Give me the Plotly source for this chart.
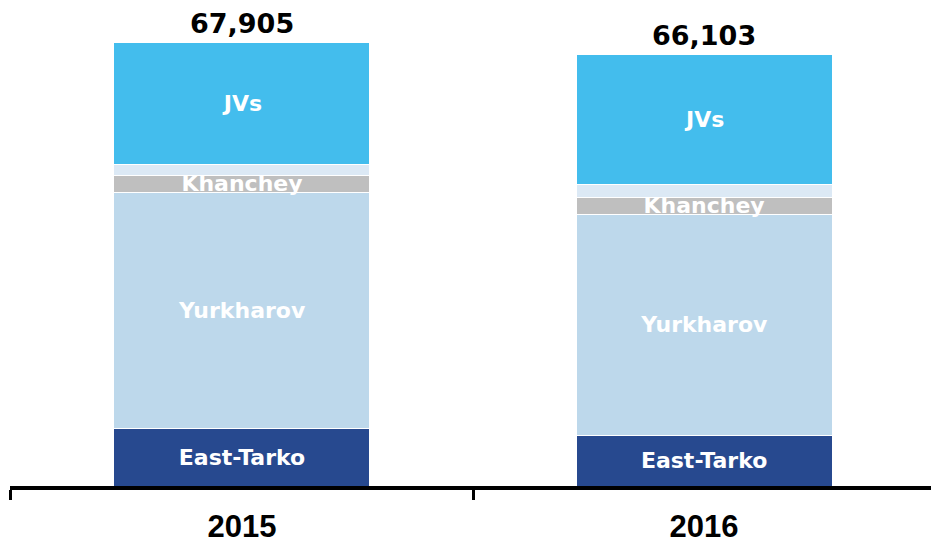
import plotly.graph_objects as go

years = ["2015", "2016"]
east_tarko = [8830, 7760]
yurkharov = [36160, 33865]
khanchey = [2495, 2450]
other = [1640, 2140]
jvs = [18780, 19888]
totals = [67905, 66103]

series = [
    ("East-Tarko", east_tarko, "#27498F", "East-Tarko"),
    ("Yurkharov", yurkharov, "#BDD8EB", "Yurkharov"),
    ("Khanchey", khanchey, "#BFBFBF", "Khanchey"),
    ("Other", other, "#DCE9F5", ""),
    ("JVs", jvs, "#43BDED", "JVs"),
]

fig = go.Figure()
for name, vals, color, label in series:
    fig.add_trace(go.Bar(
        x=years, y=vals, name=name,
        marker=dict(color=color, line=dict(color="white", width=1)),
        text=[label] * len(vals) if label else None,
        textposition="inside" if label else "none",
        insidetextanchor="middle",
        constraintext="none",
        textfont=dict(color="white", size=22, family="DejaVu Sans", weight="bold"),
        hoverinfo="skip",
    ))

# category axis: annotation x given as category index
for i, tot in enumerate(totals):
    fig.add_annotation(
        x=i, y=tot, text=f"<b>{tot:,}</b>", showarrow=False,
        xref="x", yref="y",
        yanchor="bottom", yshift=1,
        font=dict(color="black", size=27, family="DejaVu Sans"),
    )

fig.update_layout(
    width=931, height=543,
    barmode="stack", bargap=0.446,
    showlegend=False,
    plot_bgcolor="white", paper_bgcolor="white",
    margin=dict(l=10, r=0, t=0, b=57, autoexpand=False),
    xaxis=dict(
        type="category",
        range=[-0.502, 1.491],
        automargin=False,
        showline=True, linecolor="black", linewidth=4,
        ticks="outside", tickson="boundaries", ticklen=10, tickwidth=3, tickcolor="black",
        ticklabelstandoff=10,
        tickfont=dict(size=31, color="black", family="Liberation Sans", weight="bold"),
        showgrid=False,
    ),
    yaxis=dict(range=[0, 74373], visible=False, showgrid=False, automargin=False),
)

fig.write_html("out.html", config={"displayModeBar": False},
               post_script="document.body.style.margin='0';document.body.style.padding='0';")
